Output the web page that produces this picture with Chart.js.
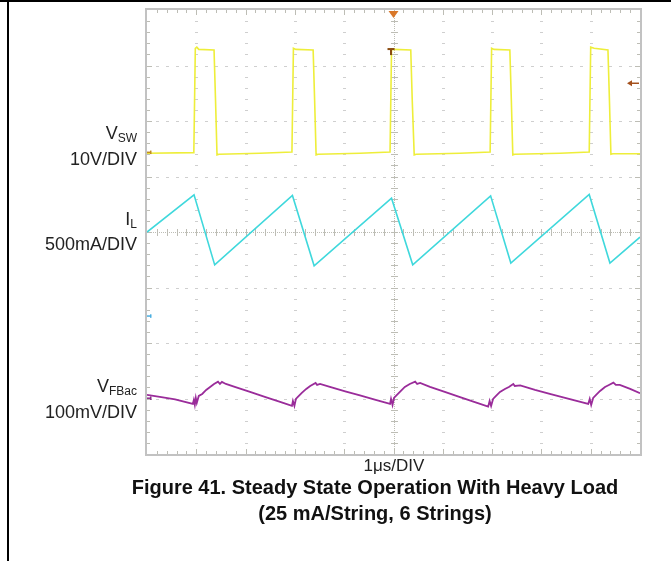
<!DOCTYPE html>
<html>
<head>
<meta charset="utf-8">
<script src="https://cdn.jsdelivr.net/npm/chart.js@4.4.1/dist/chart.umd.min.js"></script>
<style>
  html, body { margin: 0; padding: 0; background: #fff; }
  body { width: 671px; height: 561px; position: relative; overflow: hidden; font-family: "Liberation Sans", Arial, sans-serif; color: #222; }
  #wrap { position: absolute; left: 0; top: 0; width: 671px; height: 561px; }
  #frameTop { position: absolute; left: 0; top: 0; width: 671px; height: 2px; background: #000; }
  #frameLeft { position: absolute; left: 7px; top: 0; width: 2px; height: 561px; background: #000; }
  .lab { position: absolute; right: 534px; font-size: 18px; line-height: 18px; white-space: nowrap; text-align: right; }
  .lab sub { font-size: 12px; vertical-align: baseline; position: relative; top: 3px; }
  #xlab { position: absolute; left: 294px; width: 200px; text-align: center; font-size: 17px; line-height: 17px; }
  #caption { position: absolute; left: 75px; width: 600px; text-align: center; font-size: 20px; line-height: 26px; font-weight: bold; color: #111; }
</style>
</head>
<body>
<div id="wrap"><canvas id="scope" width="671" height="561"></canvas></div>
<div id="frameTop"></div>
<div id="frameLeft"></div>

<div class="lab" style="top:124px">V<sub>SW</sub></div>
<div class="lab" style="top:150px">10V/DIV</div>
<div class="lab" style="top:210px">I<sub>L</sub></div>
<div class="lab" style="top:235px">500mA/DIV</div>
<div class="lab" style="top:377px">V<sub>FBac</sub></div>
<div class="lab" style="top:403px">100mV/DIV</div>
<div id="xlab" style="top:457px">1μs/DIV</div>
<div id="caption" style="top:474px">Figure 41. Steady State Operation With Heavy Load<br>(25 mA/String, 6 Strings)</div>

<script>
// time base: 1 us/div, 10 divisions
// --- V_SW (volts, 10 V/div) ---
const vswTime = [0, 0.95, 0.98, 1.01, 1.05, 1.36, 1.39, 1.42, 1.46, 2.29, 2.94, 2.97, 3.02, 3.37, 3.40, 3.43, 3.47, 4.32,
                 4.93, 4.96, 5.01, 5.35, 5.38, 5.42, 5.46, 6.35, 6.96, 6.99, 7.04, 7.36, 7.39, 7.42, 7.46, 8.38,
                 8.97, 9.00, 9.07, 9.35, 9.38, 9.41, 9.45, 10];
const vswVolts = [-0.2, -0.1, 18.7, 18.9, 18.5, 18.4, 9.4, -0.5, -0.4, -0.2, 0, 18.7, 18.5, 18.4, 9.4, -0.5, -0.4, -0.2,
                  0, 18.5, 18.5, 18.4, 9.4, -0.5, -0.4, -0.2, 0, 18.7, 18.5, 18.4, 9.4, -0.5, -0.4, -0.2,
                  0, 18.9, 18.7, 18.4, 9.4, -0.4, -0.3, -0.3];

// --- I_L (mA, 500 mA/div) ---
const ilTime = [0, 0.954, 1.373, 2.95, 3.39, 4.96, 5.39, 6.97, 7.38, 8.97, 9.39, 10];
const ilMilliamps = [754, 1090, 459, 1084, 450, 1060, 459, 1081, 475, 1093, 475, 709];

// --- V_FBac (mV, 100 mV/div) ---
const fbTime = [0, 0.26, 0.57, 0.93, 0.95, 0.97, 0.99, 1.01, 1.05, 1.12, 1.20, 1.28, 1.36, 1.44, 1.48, 1.52, 1.60,
                1.78, 2.09, 2.39, 2.70, 2.94, 2.96, 2.99, 3.02, 3.06, 3.14, 3.23, 3.31, 3.42, 3.45, 3.51,
                3.71, 4.02, 4.32, 4.62, 4.93, 4.95, 4.98, 5.01, 5.07, 5.15, 5.23, 5.33, 5.44, 5.48, 5.54,
                5.74, 6.04, 6.35, 6.65, 6.92, 6.95, 6.98, 7.02, 7.08, 7.16, 7.26, 7.34, 7.43, 7.46, 7.57,
                7.87, 8.17, 8.48, 8.95, 8.98, 9.01, 9.05, 9.11, 9.19, 9.29, 9.37, 9.46, 9.51, 9.59, 9.80, 10];
const fbMillivolts = [5.4, 1.8, -2.7, -10.8, -3.6, -12.6, 0, -9.0, 3.6, 7.2, 14.4, 19.8, 25.2, 29.4, 25.2, 28.8, 25.2,
                      19.8, 10.8, 1.8, -7.2, -14.4, -5.4, -14.4, -1.8, 1.8, 9.0, 16.2, 21.6, 27.0, 23.4, 25.2,
                      19.8, 12.0, 4.5, -3.0, -10.8, -1.8, -12.6, 0, 5.4, 12.6, 19.8, 25.2, 29.4, 25.2, 27.0,
                      19.8, 10.8, 1.3, -7.7, -15.7, -5.4, -14.4, -1.8, 3.6, 10.8, 16.2, 19.8, 25.2, 21.6, 22.5,
                      14.4, 7.2, 0, -10.8, -1.8, -12.6, 0, 5.4, 12.6, 19.8, 23.4, 27.6, 23.4, 23.4, 16.2, 8.5];

// channel settings (units/div and ground marker in divisions from bottom)
const VSW_PER_DIV = 10, VSW_OFFSET = 5.44;
const IL_PER_DIV = 500, IL_OFFSET = 2.49;
const FB_PER_DIV = 100, FB_OFFSET = 1.01;
const TRIG_LEVEL_V = 12.4;

function toDivs(times, vals, perDiv, offset) {
    return times.map((t, i) => ({ x: t, y: offset + vals[i] / perDiv }));
}

// --- scope graticule + markers ---
const graticule = {
    id: 'graticule',
    beforeDatasetsDraw(chart) {
        const ctx = chart.ctx;
        const xs = chart.scales.x, ys = chart.scales.y;
        const a = chart.chartArea;
        ctx.save();
        ctx.fillStyle = '#cfcfcf';
        // dotted grid lines
        for (let i = 1; i < 10; i++) {
            if (i === 5) continue;
            const px = Math.round(xs.getPixelForValue(i));
            for (let k = 1; k < 40; k++) {
                const py = Math.round(ys.getPixelForValue(k * 0.2));
                ctx.fillRect(px - 1, py, 3, 1);
            }
        }
        for (let j = 1; j < 8; j++) {
            if (j === 4) continue;
            const py = Math.round(ys.getPixelForValue(j));
            for (let k = 1; k < 50; k++) {
                const px = Math.round(xs.getPixelForValue(k * 0.2));
                ctx.fillRect(px - 1, py, 3, 1);
            }
        }
        // center cross with ticks
        ctx.fillStyle = '#bdbdb5';
        const cx = Math.round(xs.getPixelForValue(5));
        const cy = Math.round(ys.getPixelForValue(4));
        for (let py = a.top; py < a.bottom; py += 2) ctx.fillRect(cx, py, 1, 1);
        for (let px = a.left; px < a.right; px += 2) ctx.fillRect(px, cy, 1, 1);
        for (let k = 1; k < 40; k++) {
            const py = Math.round(ys.getPixelForValue(k * 0.2));
            ctx.fillRect(cx - 3, py, 7, 1);
        }
        for (let k = 1; k < 50; k++) {
            const px = Math.round(xs.getPixelForValue(k * 0.2));
            ctx.fillRect(px, cy - 3, 1, 7);
        }
        // border ticks
        for (let k = 1; k < 50; k++) {
            const px = Math.round(xs.getPixelForValue(k * 0.2));
            const len = k % 5 === 0 ? 5 : 3;
            ctx.fillRect(px, a.top, 1, len);
            ctx.fillRect(px, a.bottom - len, 1, len);
        }
        for (let k = 1; k < 40; k++) {
            const py = Math.round(ys.getPixelForValue(k * 0.2));
            const len = k % 5 === 0 ? 5 : 3;
            ctx.fillRect(a.left, py, len, 1);
            ctx.fillRect(a.right - len, py, len, 1);
        }
        // frame
        ctx.strokeStyle = '#c2c2c2';
        ctx.lineWidth = 2;
        ctx.strokeRect(a.left - 1, a.top - 1, a.right - a.left + 2, a.bottom - a.top + 2);
        ctx.restore();
    },
    afterDatasetsDraw(chart) {
        const ctx = chart.ctx;
        const xs = chart.scales.x, ys = chart.scales.y;
        const a = chart.chartArea;
        ctx.save();
        // trigger position marker (top)
        const tx = xs.getPixelForValue(5);
        ctx.fillStyle = '#d9782a';
        ctx.beginPath();
        ctx.moveTo(tx - 5, a.top + 1);
        ctx.lineTo(tx + 5, a.top + 1);
        ctx.lineTo(tx, a.top + 8);
        ctx.closePath();
        ctx.fill();
        // "T" trigger marker
        const tyT = ys.getPixelForValue(VSW_OFFSET + 18.2 / VSW_PER_DIV);
        ctx.fillStyle = '#8a4a10';
        ctx.fillRect(tx - 6, tyT - 3, 7, 2);
        ctx.fillRect(tx - 3.5, tyT - 2, 2, 6);
        // trigger level arrow (right)
        const ty = ys.getPixelForValue(VSW_OFFSET + TRIG_LEVEL_V / VSW_PER_DIV);
        ctx.strokeStyle = '#a4501c';
        ctx.fillStyle = '#a4501c';
        ctx.lineWidth = 1.5;
        ctx.beginPath();
        ctx.moveTo(a.right - 1, ty);
        ctx.lineTo(a.right - 10, ty);
        ctx.stroke();
        ctx.beginPath();
        ctx.moveTo(a.right - 13, ty);
        ctx.lineTo(a.right - 8, ty - 3);
        ctx.lineTo(a.right - 8, ty + 3);
        ctx.closePath();
        ctx.fill();
        // channel ground markers (left)
        const marks = [[VSW_OFFSET, '#c08a20'], [IL_OFFSET, '#4aaee0'], [FB_OFFSET, '#8a2a8a']];
        marks.forEach(([off, col]) => {
            const py = ys.getPixelForValue(off);
            ctx.fillStyle = col;
            ctx.fillRect(a.left, py - 0.5, 4, 1.5);
            ctx.fillRect(a.left + 3, py - 1.5, 1.5, 3.5);
        });
        ctx.restore();
    }
};

new Chart(document.getElementById('scope'), {
    type: 'line',
    data: {
        datasets: [
            { label: 'VSW', data: toDivs(vswTime, vswVolts, VSW_PER_DIV, VSW_OFFSET), borderColor: '#eeee3a', borderWidth: 1.6 },
            { label: 'IL', data: toDivs(ilTime, ilMilliamps, IL_PER_DIV, IL_OFFSET), borderColor: '#3fd8dc', borderWidth: 1.6 },
            { label: 'VFBac', data: toDivs(fbTime, fbMillivolts, FB_PER_DIV, FB_OFFSET), borderColor: '#9a2c9a', borderWidth: 1.8 }
        ]
    },
    options: {
        responsive: false,
        animation: false,
        layout: { padding: { left: 147, right: 31, top: 10, bottom: 107 } },
        elements: { point: { radius: 0 }, line: { tension: 0 } },
        scales: {
            x: { type: 'linear', min: 0, max: 10, display: false },
            y: { type: 'linear', min: 0, max: 8, display: false }
        },
        plugins: { legend: { display: false }, tooltip: { enabled: false }, title: { display: false } }
    },
    plugins: [graticule]
});
</script>
</body>
</html>
